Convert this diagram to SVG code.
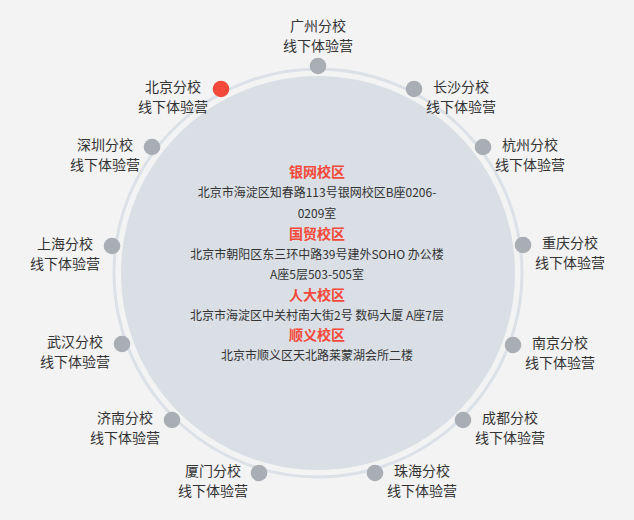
<svg xmlns="http://www.w3.org/2000/svg" width="634" height="520" viewBox="0 0 634 520">
  <style>
    .bg { fill: #f3f3f3; }
    .ring { fill: none; stroke: #dbe1e7; stroke-width: 3; }
    .core { fill: #d9dfe5; }
    .dot { fill: #a9adb4; }
    .dot.active { fill: #f3493a; }
    .lbl { font-family: "Noto Sans CJK SC", "Liberation Sans", sans-serif; font-size: 14px; fill: #333; text-anchor: middle; }
    .ttl { font-family: "Noto Sans CJK SC", "Liberation Sans", sans-serif; font-size: 14px; font-weight: bold; fill: #f3493a; text-anchor: middle; }
    .addr { font-family: "Noto Sans CJK SC", "Liberation Sans", sans-serif; font-size: 12px; fill: #333; text-anchor: middle; }
  </style>
  <rect class="bg" x="0" y="0" width="634" height="520"/>
  <g id="connectors">
    <circle class="ring" cx="318" cy="273" r="204"/>
  </g>
  <g id="center">
    <circle class="core" cx="318" cy="273" r="197"/>
    <text class="ttl" x="317" y="177">银网校区</text>
    <text class="addr" x="317" y="197">北京市海淀区知春路113号银网校区B座0206-</text>
    <text class="addr" x="317" y="218">0209室</text>
    <text class="ttl" x="317" y="239">国贸校区</text>
    <text class="addr" x="317" y="259">北京市朝阳区东三环中路39号建外SOHO 办公楼</text>
    <text class="addr" x="317" y="279">A座5层503-505室</text>
    <text class="ttl" x="317" y="300">人大校区</text>
    <text class="addr" x="317" y="320">北京市海淀区中关村南大街2号 数码大厦 A座7层</text>
    <text class="ttl" x="317" y="340">顺义校区</text>
    <text class="addr" x="317" y="360">北京市顺义区天北路莱蒙湖会所二楼</text>
  </g>
  <g id="guangzhou">
    <circle class="dot" cx="318" cy="66" r="8.3"/>
    <text class="lbl" x="318" y="31">广州分校</text>
    <text class="lbl" x="318" y="51">线下体验营</text>
  </g>
  <g id="beijing">
    <circle class="dot active" cx="221" cy="89" r="8.3"/>
    <text class="lbl" x="173" y="92">北京分校</text>
    <text class="lbl" x="173" y="112">线下体验营</text>
  </g>
  <g id="changsha">
    <circle class="dot" cx="414" cy="89" r="8.3"/>
    <text class="lbl" x="461" y="92">长沙分校</text>
    <text class="lbl" x="461" y="112">线下体验营</text>
  </g>
  <g id="shenzhen">
    <circle class="dot" cx="152" cy="147" r="8.3"/>
    <text class="lbl" x="105" y="150">深圳分校</text>
    <text class="lbl" x="105" y="170">线下体验营</text>
  </g>
  <g id="hangzhou">
    <circle class="dot" cx="483" cy="147" r="8.3"/>
    <text class="lbl" x="530" y="150">杭州分校</text>
    <text class="lbl" x="530" y="170">线下体验营</text>
  </g>
  <g id="shanghai">
    <circle class="dot" cx="112" cy="246" r="8.3"/>
    <text class="lbl" x="65" y="249">上海分校</text>
    <text class="lbl" x="65" y="269">线下体验营</text>
  </g>
  <g id="chongqing">
    <circle class="dot" cx="523" cy="245" r="8.3"/>
    <text class="lbl" x="570" y="248">重庆分校</text>
    <text class="lbl" x="570" y="268">线下体验营</text>
  </g>
  <g id="wuhan">
    <circle class="dot" cx="122" cy="344" r="8.3"/>
    <text class="lbl" x="75" y="347">武汉分校</text>
    <text class="lbl" x="75" y="367">线下体验营</text>
  </g>
  <g id="nanjing">
    <circle class="dot" cx="513" cy="345" r="8.3"/>
    <text class="lbl" x="560" y="348">南京分校</text>
    <text class="lbl" x="560" y="368">线下体验营</text>
  </g>
  <g id="jinan">
    <circle class="dot" cx="172" cy="420" r="8.3"/>
    <text class="lbl" x="125" y="423">济南分校</text>
    <text class="lbl" x="125" y="443">线下体验营</text>
  </g>
  <g id="chengdu">
    <circle class="dot" cx="463" cy="420" r="8.3"/>
    <text class="lbl" x="510" y="423">成都分校</text>
    <text class="lbl" x="510" y="443">线下体验营</text>
  </g>
  <g id="xiamen">
    <circle class="dot" cx="259" cy="473" r="8.3"/>
    <text class="lbl" x="213" y="476">厦门分校</text>
    <text class="lbl" x="213" y="496">线下体验营</text>
  </g>
  <g id="zhuhai">
    <circle class="dot" cx="375" cy="473" r="8.3"/>
    <text class="lbl" x="422" y="476">珠海分校</text>
    <text class="lbl" x="422" y="496">线下体验营</text>
  </g>
</svg>
